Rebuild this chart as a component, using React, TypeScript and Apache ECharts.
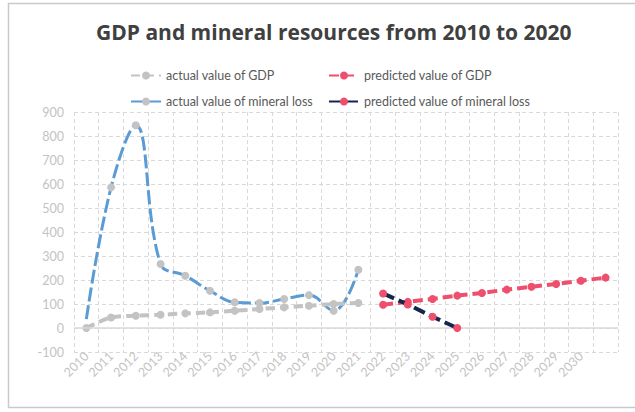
import React, { useEffect, useRef } from "react";
import * as echarts from "echarts";

// Year categories; the last slot carries the final forecast point without a label
const years = [
  "2010", "2011", "2012", "2013", "2014", "2015", "2016", "2017", "2018", "2019",
  "2020", "2021", "2022", "2023", "2024", "2025", "2026", "2027", "2028", "2029",
  "2030", "",
];

// Observed values, 2010–2021
const gdpActual = [0, 44, 51, 55, 61, 65, 72, 79, 86, 93, 100, 104];
const mineralLossActual = [37, 586, 845, 267, 218, 155, 107, 104, 121, 137, 72, 243];

// Forecast values, starting 2022
const gdpPredicted = [97, 109, 121, 135, 146, 160, 172, 183, 197, 210];
const mineralLossPredicted = [144, 98, 47, 0];

const forecastStart = 12;

const GRAY = "#C3C3C3";
const BLUE = "#5B9BD5";
const PINK = "#EE4F6C";
const NAVY = "#15254B";
const GRID = "#D9D9D9";
const FONT = "Lato";

const padForecast = (vals: number[]) =>
  Array(forecastStart).fill(null).concat(vals);

export default function App() {
  const ref = useRef<HTMLDivElement>(null);

  useEffect(() => {
    if (!ref.current) return;
    const chart = echarts.init(ref.current, null, { renderer: "svg" });

    const legendText = { color: "#595959", fontSize: 12.5, fontFamily: FONT };
    const legendBase = {
      itemWidth: 30,
      itemHeight: 10,
      textStyle: legendText,
      itemGap: 0,
      padding: 0,
    };

    chart.setOption({
      animation: false,
      backgroundColor: "#fff",
      title: {
        text: "GDP and mineral resources from 2010 to 2020",
        left: 91,
        top: 16,
        textStyle: {
          fontFamily: "Open Sans",
          fontWeight: "bold",
          fontSize: 21,
          color: "#404040",
        },
      },
      legend: [
        { ...legendBase, data: ["actual value of GDP"], left: 130, top: 69 },
        { ...legendBase, data: ["predicted value of GDP"], left: 328, top: 69 },
        { ...legendBase, data: ["actual value of mineral loss"], left: 130, top: 95 },
        { ...legendBase, data: ["predicted value of mineral loss"], left: 328, top: 95 },
      ],
      graphic: [
        {
          type: "rect",
          silent: true,
          shape: { x: 8.5, y: 3.5, width: 640, height: 404 },
          style: { fill: "none", stroke: "#C9C9C9", lineWidth: 1.5 },
        },
      ],
      grid: { left: 74, right: 17, top: 112, bottom: 60, containLabel: false },
      xAxis: {
        type: "category",
        data: years,
        boundaryGap: true,
        axisLine: { show: false },
        axisTick: { show: false },
        axisLabel: {
          rotate: 45,
          interval: 0,
          margin: 2,
          color: GRAY,
          fontSize: 12.5,
          fontFamily: FONT,
        },
        splitLine: {
          show: true,
          interval: 0,
          lineStyle: { color: GRID, type: [4, 3], width: 1 },
        },
      },
      yAxis: {
        type: "value",
        min: -100,
        max: 900,
        interval: 100,
        axisLine: { show: false },
        axisTick: { show: false },
        axisLabel: { color: GRAY, fontSize: 12.5, fontFamily: FONT, margin: 10 },
        splitLine: { lineStyle: { color: GRID, type: [4, 3], width: 1 } },
      },
      series: [
        {
          name: "actual value of mineral loss",
          type: "line",
          smooth: 0.4,
          data: mineralLossActual.map((v, i) =>
            i === 0 ? { value: v, symbol: "none" } : v
          ),
          symbol: "circle",
          symbolSize: 8,
          lineStyle: { color: BLUE, width: 3, type: [14, 4] },
          itemStyle: { color: GRAY },
          markLine: {
            silent: true,
            symbol: "none",
            label: { show: false },
            lineStyle: { color: GRID, type: "solid", width: 1.5 },
            data: [{ yAxis: 0 }],
          },
          z: 3,
        },
        {
          name: "actual value of GDP",
          type: "line",
          smooth: 0.3,
          data: gdpActual,
          symbol: "circle",
          symbolSize: 8,
          lineStyle: { color: GRAY, width: 4, type: [9, 5] },
          itemStyle: { color: GRAY },
          z: 4,
        },
        {
          name: "predicted value of GDP",
          type: "line",
          data: padForecast(gdpPredicted),
          symbol: "circle",
          symbolSize: 8,
          lineStyle: { color: PINK, width: 4, type: [10, 5] },
          itemStyle: { color: PINK },
          z: 5,
        },
        {
          name: "predicted value of mineral loss",
          type: "line",
          data: padForecast(mineralLossPredicted),
          symbol: "circle",
          symbolSize: 8,
          lineStyle: { color: NAVY, width: 4, type: [12, 5] },
          itemStyle: { color: PINK },
          z: 6,
        },
      ],
    });

    return () => chart.dispose();
  }, []);

  return (
    <div
      ref={ref}
      style={{ position: "fixed", left: 0, top: 0, width: 635, height: 412 }}
    />
  );
}
